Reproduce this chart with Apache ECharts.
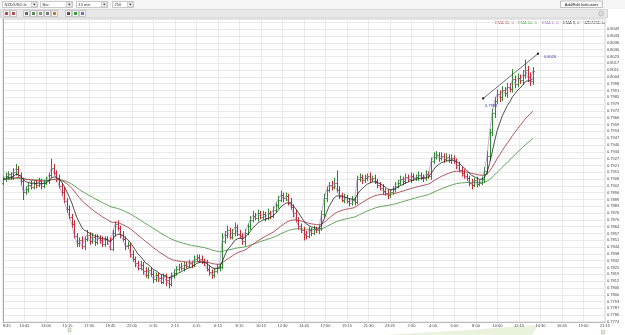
<!DOCTYPE html>
<html>
<head>
<meta charset="utf-8">
<script src="https://cdn.jsdelivr.net/npm/echarts@6/dist/echarts.min.js"></script>
<style>
html, body { margin: 0; padding: 0; background: #fff; }
#chart { width: 625px; height: 335px; }
</style>
</head>
<body>
<div id="chart"></div>
<script>
// price axis: 44 labels from 0.7774 up to 0.8049
var Y0 = 0.7774, YSTEP = 0.0275 / 43, YTICKS = 43;
var XSTEP = 8.44;
var timeLabels = ['8:45', '10:45', '13:00', '15:15', '17:30', '19:45', '22:00', '0:15', '2:15', '4:15',
    '6:15', '8:15', '10:15', '12:30', '14:45', '17:00', '19:15', '21:30', '23:45', '2:00',
    '4:00', '6:00', '8:00', '10:00', '12:15', '14:30', '16:45', '19:00', '21:15'];

// closes in pips (0.7908 -> 7908), one per 15 min bar
var closes = [
    7908, 7911, 7913, 7910, 7915, 7918, 7912, 7906, 7896, 7899, 7903, 7901, 7905, 7903, 7906, 7902, 7905, 7907, 7912, 7919, 7914,
    7909, 7902, 7896, 7888, 7880, 7873, 7866, 7855, 7848, 7851,
    7845, 7852, 7856, 7850, 7854, 7849, 7853, 7851, 7847, 7852, 7850, 7843,
    7858, 7866, 7862, 7856,
    7852, 7845, 7846, 7838, 7833, 7829, 7825, 7828,
    7822, 7818, 7823, 7819, 7814, 7818, 7815, 7812, 7817, 7813, 7810, 7818,
    7820, 7824, 7826, 7825, 7828, 7827, 7829, 7828, 7833, 7835, 7833, 7831, 7830, 7824, 7821, 7818, 7822, 7825, 7826, 7850,
    7856, 7860, 7854, 7858, 7863, 7857, 7855, 7850, 7858,
    7864, 7870, 7874, 7872, 7876, 7873, 7875, 7872, 7876, 7874,
    7879, 7884, 7889, 7893, 7890, 7892, 7887,
    7882, 7876, 7870, 7864, 7860, 7857, 7855, 7860,
    7858, 7861, 7860, 7862,
    7875, 7890, 7898, 7903, 7901, 7905, 7898,
    7893, 7889, 7891, 7888, 7886, 7889, 7887,
    7908, 7910, 7907, 7909, 7911, 7908, 7909, 7906,
    7903, 7900, 7897, 7895, 7893, 7896, 7899, 7902,
    7905, 7908, 7906, 7910, 7908, 7911, 7909, 7910, 7912, 7910, 7909, 7913, 7911,
    7925, 7929, 7931, 7928, 7930, 7927, 7929, 7926, 7928, 7925, 7921,
    7917, 7914, 7911, 7909, 7905, 7903, 7907, 7904, 7905, 7908,
    7916, 7930, 7952, 7970, 7982,
    7988, 7985, 7992, 7989, 7995, 7993, 8002, 7998, 8003, 8001, 8006, 8011, 8004, 8000, 8010
];
var firstOpen = 7905;
// wick above / below the body, pips
var hiExt = [
    2, 3, 2, 1, 3, 4, 2, 2, 3, 2,  2, 3, 1, 2, 3, 2, 2, 3, 2, 8,
    3, 2, 3, 2, 4, 2, 3, 2, 3, 2,  2, 3, 2, 4, 2, 3, 2, 3, 2, 3,
    2, 2, 3, 2, 2, 3, 2, 3, 2, 3,  2, 3, 2, 2, 3, 2, 3, 2, 2, 3,
    2, 2, 3, 2, 2, 3, 2, 3, 2, 2,  3, 2, 2, 3, 2, 3, 2, 2, 3, 2,
    2, 3, 2, 2, 3, 2, 7, 3, 4, 2,  3, 4, 2, 3, 2, 3, 2, 3, 4, 2,
    3, 2, 3, 2, 4, 2, 3, 2, 3, 4,  2, 3, 2, 3, 2, 3, 2, 2, 3, 2,
    3, 2, 3, 2, 3, 3, 4, 3, 2, 3,  4, 11, 3, 2, 3, 2, 2, 3, 2, 3,
    3, 2, 3, 2, 3, 2, 3, 2, 2, 3,  2, 3, 2, 2, 3, 2, 3, 2, 3, 2,
    3, 2, 2, 3, 2, 2, 3, 2, 3, 4,  3, 2, 3, 2, 3, 2, 3, 2, 2, 3,
    2, 3, 2, 2, 3, 2, 3, 2, 2, 3,  4, 3, 4, 3, 4, 3, 3, 2, 3, 3,
    9, 3, 4, 3, 4, 9, 3, 4, 3
];
var loExt = [
    2, 2, 3, 2, 2, 3, 2, 3, 7, 2,  3, 2, 2, 3, 2, 3, 2, 2, 3, 2,
    2, 3, 2, 3, 2, 3, 2, 3, 2, 3,  3, 2, 3, 2, 3, 2, 3, 2, 3, 2,
    2, 3, 1, 2, 3, 2, 3, 2, 3, 2,  3, 2, 3, 2, 2, 3, 2, 3, 2, 3,
    2, 3, 2, 2, 5, 4, 2, 3, 2, 2,  2, 3, 2, 2, 3, 2, 2, 3, 2, 3,
    2, 3, 3, 2, 2, 3, 2, 2, 3, 2,  2, 3, 2, 2, 3, 4, 2, 3, 2, 2,
    3, 2, 2, 3, 2, 3, 2, 2, 3, 2,  3, 2, 3, 2, 3, 2, 3, 2, 6, 3,
    2, 3, 2, 2, 3, 2, 2, 3, 2, 3,  2, 2, 3, 2, 3, 2, 3, 2, 3, 2,
    2, 3, 2, 2, 3, 2, 2, 3, 2, 3,  2, 3, 2, 2, 3, 2, 2, 3, 2, 2,
    3, 2, 2, 3, 2, 3, 2, 2, 3, 2,  2, 3, 2, 3, 2, 2, 3, 2, 3, 2,
    3, 2, 2, 3, 4, 2, 3, 2, 2, 3,  3, 4, 3, 4, 3, 4, 3, 3, 4, 3,
    3, 4, 3, 3, 4, 3, 4, 4, 3
];
// drawn trend line: [bar position, price in pips]
var trendLine = [[188.5, 7984], [210, 8026]];

function u(p) { return (p / 10000 - Y0) / YSTEP; }

function ema(src, n) {
    var k = 2 / (n + 1), out = [], prev = src[0];
    for (var i = 0; i < src.length; i++) {
        prev = i ? src[i] * k + prev * (1 - k) : src[0];
        out.push([i, u(prev)]);
    }
    return out;
}

var bars = [];
for (var i = 0; i < closes.length; i++) {
    var o = i ? closes[i - 1] : firstOpen, c = closes[i];
    var h = Math.max(o, c) + hiExt[i], l = Math.min(o, c) - loExt[i];
    bars.push([i, u(o), u(c), u(l), u(h)]);
}

function renderOhlc(params, api) {
    var x = api.value(0);
    var po = api.coord([x, api.value(1)]);
    var pc = api.coord([x, api.value(2)]);
    var pl = api.coord([x, api.value(3)]);
    var ph = api.coord([x, api.value(4)]);
    var color = api.value(2) >= api.value(1) ? '#2f8a2f' : '#c42a30';
    var px = Math.round(po[0]) + 0.5;
    var st = { stroke: color, lineWidth: 1 };
    return {
        type: 'group',
        children: [
            { type: 'line', shape: { x1: px, y1: ph[1] - 0.5, x2: px, y2: pl[1] + 0.5 }, style: st },
            { type: 'line', shape: { x1: px - 1.2, y1: Math.round(po[1]) + 0.5, x2: px, y2: Math.round(po[1]) + 0.5 }, style: st },
            { type: 'line', shape: { x1: px, y1: Math.round(pc[1]) + 0.5, x2: px + 1.2, y2: Math.round(pc[1]) + 0.5 }, style: st }
        ]
    };
}

var font = '"Liberation Sans", Arial, sans-serif';
function txt(x, y, s, color, align) {
    return { type: 'text', x: x, y: y, silent: true,
        style: { text: s, fill: color || '#222', fontSize: 4, fontFamily: font, verticalAlign: 'middle', align: align || 'left' } };
}
function rect(x, y, w, h, fill, stroke) {
    return { type: 'rect', shape: { x: x, y: y, width: w, height: h }, silent: true,
        style: { fill: fill, stroke: stroke || null, lineWidth: 0.6 } };
}

// toolbar
var toolbar = [
    rect(0, 0, 625, 9, '#f6f6f6'),
    rect(0.5, 9.5, 607, 8.5, '#e8e8e8', '#c4c4c4')
];
[[2, 35, 'NZD/USD.fx'], [40, 32, 'Bar'], [76, 31, '15 min'], [112, 21, '250']].forEach(function (d) {
    toolbar.push(rect(d[0] + 0.5, 1.5, d[1], 6, '#fff', '#a8a8a8'));
    toolbar.push(rect(d[0] + d[1] - 5.5, 2, 5.5, 5, '#eee', '#bbb'));
    toolbar.push({ type: 'polygon', silent: true,
        shape: { points: [[d[0] + d[1] - 4, 3.8], [d[0] + d[1] - 1.5, 3.8], [d[0] + d[1] - 2.75, 5.6]] },
        style: { fill: '#333' } });
    toolbar.push(txt(d[0] + 2.5, 4.6, d[2], '#333'));
});
[[3, '#d04040'], [10, '#b05050'], [23, '#666'], [30, '#5a8a5a'], [37, '#8a8a8a'], [44, '#777'], [51, '#d07020'],
 [65, '#555'], [72, '#3a9a3a'], [79, '#7a6ad0']].forEach(function (d) {
    toolbar.push(rect(d[0] + 0.5, 10.5, 6, 6, '#f4f4f4', '#aaa'));
    toolbar.push(rect(d[0] + 2, 12, 3, 3, d[1]));
});
toolbar.push(rect(560.5, 1, 42, 6.5, '#fbfbfb', '#9a9a9a'));
toolbar.push(txt(581.5, 4.4, 'Add/Edit Indicators', '#222', 'center'));
toolbar.push({ type: 'circle', shape: { cx: 601, cy: 13.5, r: 2.5 }, silent: true, style: { fill: '#ddd', stroke: '#aaa', lineWidth: 0.6 } });

// indicator legend
var legend = [
    txt(495, 22.5, 'EMA 30, 0', '#b0404c'),
    txt(518, 22.5, 'EMA 60, 0', '#3f8f3f'),
    txt(542, 22.5, 'EMA 1, 0', '#9050b0'),
    txt(563, 22.5, 'EMA 8, 0', '#222'),
    txt(583, 22.5, 'NZD/USD.fx', '#222')
];

var extras = [
    { type: 'polygon', silent: true, shape: { points: [[383, 335], [470, 330], [520, 326], [538, 325], [532, 335]] }, style: { fill: '#e9f2dc' } },
    rect(68, 328, 3, 4, '#dde6d0', '#b8c4a8'),
    rect(601.5, 330, 3, 4, '#dde6d0', '#b8c4a8')
];

var dom = document.getElementById('chart');
var myChart = echarts.init(dom, null, { renderer: 'canvas' });
var last = closes[closes.length - 1];

var option = {
    animation: false,
    backgroundColor: '#fff',
    grid: { left: 3, right: 20, top: 19, bottom: 13, containLabel: false, outerBoundsMode: 'none',
        show: true, borderColor: '#bdbdbd', borderWidth: 0.6 },
    xAxis: {
        type: 'value', min: 0, max: 28 * XSTEP, interval: XSTEP,
        axisLine: { show: true, lineStyle: { color: '#b0b0b0', width: 0.8 } },
        axisTick: { show: false },
        splitLine: { show: true, lineStyle: { color: '#e4e4e4', width: 0.8 } },
        axisLabel: {
            fontSize: 4, color: '#444', margin: 2, fontFamily: font, showMinLabel: true, showMaxLabel: true,
            alignMinLabel: 'left',
            formatter: function (v) {
                var k = Math.round(v / XSTEP);
                return Math.abs(v - k * XSTEP) < 0.05 && timeLabels[k] ? timeLabels[k] : '';
            }
        }
    },
    yAxis: {
        type: 'value', position: 'right', min: 0, max: 44.5, interval: 1,
        axisLine: { show: true, lineStyle: { color: '#9a9a9a', width: 0.8 } },
        axisTick: { show: false },
        splitLine: { show: true, lineStyle: { color: '#e4e4e4', width: 0.8 } },
        axisLabel: {
            fontSize: 4, color: '#444', margin: 2, fontFamily: font,
            formatter: function (v) {
                if (v > YTICKS + 0.01 || Math.abs(v - Math.round(v)) > 0.01) return '';
                return (Y0 + v * YSTEP).toFixed(4);
            }
        }
    },
    graphic: toolbar.concat(legend, extras),
    series: [
        { name: 'EMA 60', type: 'line', data: ema(closes, 60), showSymbol: false, z: 3,
          lineStyle: { color: '#55994c', width: 0.9 } },
        { name: 'EMA 30', type: 'line', data: ema(closes, 30), showSymbol: false, z: 3,
          lineStyle: { color: '#a8424e', width: 0.9 } },
        { name: 'NZD/USD.fx', type: 'custom', renderItem: renderOhlc, data: bars, z: 4,
          encode: { x: 0, y: [1, 2, 3, 4] } },
        { name: 'EMA 1', type: 'line', data: ema(closes, 1), showSymbol: false, z: 5,
          lineStyle: { color: '#9a6cc0', width: 0.7, opacity: 0.8 },
          markLine: {
              silent: true, symbol: 'none',
              lineStyle: { opacity: 0 },
              label: { show: true, position: 'end', distance: 2, fontSize: 4, color: '#d02020', fontFamily: font,
                  backgroundColor: '#fff', padding: [1, 1, 1, 0],
                  formatter: (last / 10000).toFixed(4) },
              data: [{ yAxis: u(last) }]
          } },
        { name: 'EMA 8', type: 'line', data: ema(closes, 8), showSymbol: false, z: 5,
          lineStyle: { color: '#222', width: 0.8 } },
        { name: 'trend', type: 'line', z: 6,
          data: trendLine.map(function (d, k) {
              return { value: [d[0], u(d[1])],
                  label: k === 0 ? { position: 'bottom', offset: [8, -1] } : { position: 'right', offset: [0, 3] } };
          }),
          symbol: 'rect', symbolSize: 2, itemStyle: { color: '#111' },
          lineStyle: { color: '#333', width: 0.7 },
          label: { show: true, fontSize: 4, color: '#3a3aa8', fontFamily: font,
              formatter: function (p) { return (Y0 + p.value[1] * YSTEP).toFixed(4); } } }
    ]
};

if (option && typeof option === 'object') {
    myChart.setOption(option, true);
}
</script>
</body>
</html>
